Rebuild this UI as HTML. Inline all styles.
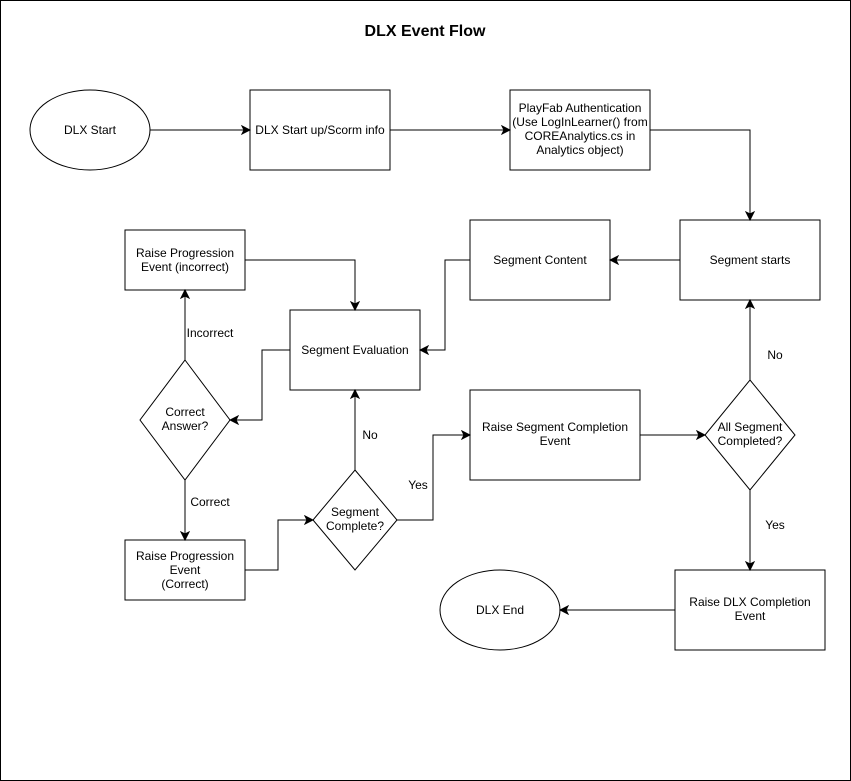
<!DOCTYPE html>
<html><head><meta charset="utf-8"><style>
html,body{margin:0;padding:0;background:#fff;}
svg{display:block;}
text{font-family:"Liberation Sans",Arial,sans-serif;font-size:12px;fill:#000;}
</style></head><body>
<svg width="851" height="781" viewBox="0 0 851 781" xmlns="http://www.w3.org/2000/svg">
<defs>
<marker id="a" markerWidth="10" markerHeight="10" refX="9" refY="5" orient="auto" markerUnits="userSpaceOnUse">
<path d="M1,1 L9,5 L1,9 L3,5 Z" fill="#000" stroke="#000"/>
</marker>
</defs>
<rect x="0.5" y="0.5" width="850" height="780" fill="#fff" stroke="#000"/>
<text x="425" y="36" text-anchor="middle" style="font-weight:bold;font-size:16px">DLX Event Flow</text>
<g fill="#fff" stroke="#000" stroke-width="1">
<ellipse cx="90" cy="130" rx="60" ry="40"/>
<rect x="250" y="90" width="140" height="80"/>
<rect x="510" y="90" width="140" height="80"/>
<rect x="680" y="220" width="140" height="80"/>
<rect x="470" y="220" width="140" height="80"/>
<rect x="290" y="310" width="130" height="80"/>
<rect x="125" y="230" width="120" height="60"/>
<polygon points="185,360 230,420 185,480 140,420"/>
<rect x="125" y="540" width="120" height="60"/>
<polygon points="355,470 397,520 355,570 313,520"/>
<rect x="470" y="390" width="170" height="90"/>
<polygon points="750,380 795,435 750,490 705,435"/>
<rect x="675" y="570" width="150" height="80"/>
<ellipse cx="500" cy="610" rx="60" ry="40"/>
</g>
<g fill="none" stroke="#000" stroke-width="1" marker-end="url(#a)">
<path d="M150,130 H250"/>
<path d="M390,130 H510"/>
<path d="M650,130 H750 V220"/>
<path d="M680,260 H610"/>
<path d="M470,260 H445 V350 H420"/>
<path d="M245,260 H355 V310"/>
<path d="M290,350 H262 V420 H230"/>
<path d="M185,360 V290"/>
<path d="M185,480 V540"/>
<path d="M245,570 H278 V520 H313"/>
<path d="M355,470 V390"/>
<path d="M397,520 H433 V435 H470"/>
<path d="M640,435 H705"/>
<path d="M750,380 V300"/>
<path d="M750,490 V570"/>
<path d="M675,610 H560"/>
</g>
<g text-anchor="middle">
<text x="90" y="134">DLX Start</text>
<text x="320" y="134">DLX Start up/Scorm info</text>
<text x="580" y="112">PlayFab Authentication</text>
<text x="580" y="126">(Use LogInLearner() from</text>
<text x="580" y="140">COREAnalytics.cs in</text>
<text x="580" y="154">Analytics object)</text>
<text x="750" y="264">Segment starts</text>
<text x="540" y="264">Segment Content</text>
<text x="355" y="354">Segment Evaluation</text>
<text x="185" y="257">Raise Progression</text>
<text x="185" y="271">Event (incorrect)</text>
<text x="185" y="416">Correct</text>
<text x="185" y="430">Answer?</text>
<text x="185" y="560">Raise Progression</text>
<text x="185" y="574">Event</text>
<text x="185" y="588">(Correct)</text>
<text x="355" y="516">Segment</text>
<text x="355" y="530">Complete?</text>
<text x="555" y="431">Raise Segment Completion</text>
<text x="555" y="445">Event</text>
<text x="750" y="431">All Segment</text>
<text x="750" y="445">Completed?</text>
<text x="750" y="606">Raise DLX Completion</text>
<text x="750" y="620">Event</text>
<text x="500" y="614">DLX End</text>
<text x="210" y="337">Incorrect</text>
<text x="210" y="506">Correct</text>
<text x="370" y="439">No</text>
<text x="418" y="489">Yes</text>
<text x="775" y="359">No</text>
<text x="775" y="529">Yes</text>
</g>
</svg>
</body></html>
